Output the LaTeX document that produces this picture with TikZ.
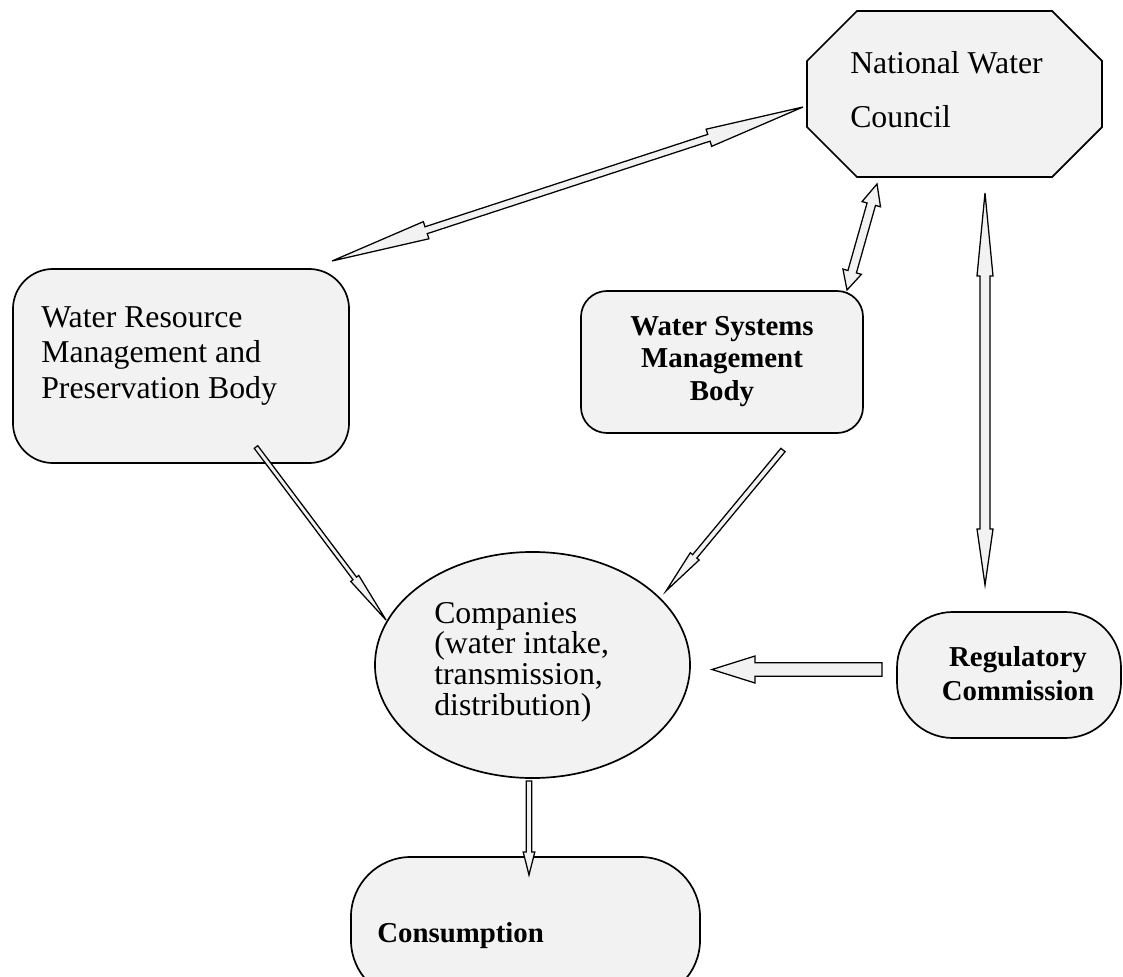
\documentclass[tikz,border=0pt]{standalone}
\usepackage{fontspec}
\setmainfont{Liberation Serif}
\usetikzlibrary{calc,shapes.geometric,positioning}
\definecolor{boxgray}{gray}{0.95}
\tikzstyle{box} = [draw,fill=boxgray,line width=1.2pt]
\tikzstyle{blockarrow} = [draw,fill=boxgray,line width=0.9pt,line join=miter]
\tikzstyle{plain} = [font=\fontsize{22.6}{24.9}\selectfont,align=left,inner sep=0pt]
\tikzstyle{strong} = [font=\bfseries\fontsize{20.5}{23.1}\selectfont,align=center,inner sep=0pt]

% block arrow: tail, tip, shaft half width, head half width, head length
\newcommand{\onearrow}[5]{%
  \coordinate (hb) at ($(#2)!#5!(#1)$);
  \filldraw[blockarrow] ($(#1)!#3!90:(#2)$) -- ($(hb)!#3!90:(#2)$) -- ($(hb)!#4!90:(#2)$) -- (#2)
    -- ($(hb)!#4!-90:(#2)$) -- ($(hb)!#3!-90:(#2)$) -- ($(#1)!#3!-90:(#2)$) -- cycle;}
% double block arrow: end, end, shaft half width, head half width, head lengths
\newcommand{\twoarrow}[6]{%
  \coordinate (hbA) at ($(#1)!#5!(#2)$);
  \coordinate (hbB) at ($(#2)!#6!(#1)$);
  \filldraw[blockarrow] (#1) -- ($(hbA)!#4!90:(#2)$) -- ($(hbA)!#3!90:(#2)$) -- ($(hbB)!#3!90:(#2)$)
    -- ($(hbB)!#4!90:(#2)$) -- (#2) -- ($(hbB)!#4!-90:(#2)$) -- ($(hbB)!#3!-90:(#2)$)
    -- ($(hbA)!#3!-90:(#2)$) -- ($(hbA)!#4!-90:(#2)$) -- cycle;}

\begin{document}
\begin{tikzpicture}[x=0.025cm,y=-0.025cm]
   \useasboundingbox (0,0) rectangle (1123,977);
   \clip (0,0) rectangle (1123,977);
   % shapes
   \node[minimum width=7.375cm,minimum height=4.15cm,inner sep=0pt,outer sep=0pt](nwc) at (954.5,94){};
   \filldraw[box,line join=miter] ($(nwc.north west)+(50,0)$) -- ($(nwc.north east)+(-50,0)$) -- ($(nwc.north east)+(0,50)$)
     -- ($(nwc.south east)+(0,-50)$) -- ($(nwc.south east)+(-50,0)$) -- ($(nwc.south west)+(50,0)$)
     -- ($(nwc.south west)+(0,-50)$) -- ($(nwc.north west)+(0,50)$) -- cycle;
   \node[box,rounded corners=1cm,minimum width=8.4cm,minimum height=4.85cm](wrm) at (181,366){};
   \node[box,rounded corners=0.65cm,minimum width=7.05cm,minimum height=3.55cm](wsm) at (722,362){};
   \node[box,ellipse,minimum width=7.875cm,minimum height=5.65cm](comp) at (532.5,665){};
   \node[box,rounded corners=1.4cm,minimum width=5.6cm,minimum height=3.15cm](rc) at (1009,675){};
   \node[box,rounded corners=1.5cm,minimum width=8.725cm,minimum height=3.575cm](cons) at (525.5,928.5){};
   % texts (base = last line)
   \node[plain,font=\fontsize{22.6}{39.1}\selectfont,anchor=base west](nwc-text) at (850,128){National Water\\Council};
   \node[plain,anchor=base west](wrm-text) at (41,398){Water Resource\\Management and\\Preservation Body};
   \node[strong,anchor=base](wsm-text) at (722,400){Water Systems\\Management\\Body};
   \node[plain,font=\fontsize{22.6}{21.8}\selectfont,anchor=base west](comp-text) at (434,715){Companies\\(water intake,\\transmission,\\distribution)};
   \node[strong,font=\bfseries\fontsize{20.5}{23.5}\selectfont,anchor=base](rc-text) at (1018,700){Regulatory\\Commission};
   \node[strong,anchor=base west](cons-text) at (377,942){Consumption};
   % arrow ends
   \coordinate (wrm-nwc) at (332,261);
   \coordinate (nwc-wrm) at (803,107);
   \coordinate (wsm-nwc) at (847,290);
   \coordinate (nwc-wsm) at (877,184);
   \coordinate (nwc-rc) at (985,193);
   \coordinate (rc-nwc) at (985,585);
   \coordinate (wrm-comp) at (256,447);
   \coordinate (comp-wrm) at (386,620);
   \coordinate (wsm-comp) at (783,450);
   \coordinate (comp-wsm) at (666,591);
   \coordinate (rc-comp) at (882,669.5);
   \coordinate (comp-rc) at (712,669.5);
   \coordinate (comp-cons) at (529,781);
   \coordinate (cons-comp) at (529,875);
   % arrows
   \twoarrow{wrm-nwc}{nwc-wrm}{0.09cm}{0.225cm}{2.475cm}{2.475cm}
   \twoarrow{wsm-nwc}{nwc-wsm}{0.11cm}{0.24cm}{0.475cm}{0.525cm}
   \twoarrow{nwc-rc}{rc-nwc}{0.125cm}{0.2cm}{2.075cm}{1.4cm}
   \onearrow{wrm-comp}{comp-wrm}{0.055cm}{0.125cm}{1.3cm}
   \onearrow{wsm-comp}{comp-wsm}{0.0675cm}{0.143cm}{1.125cm}
   \onearrow{rc-comp}{comp-rc}{0.1675cm}{0.3375cm}{1.075cm}
   \onearrow{comp-cons}{cons-comp}{0.07cm}{0.145cm}{0.575cm}
\end{tikzpicture}
\end{document}
